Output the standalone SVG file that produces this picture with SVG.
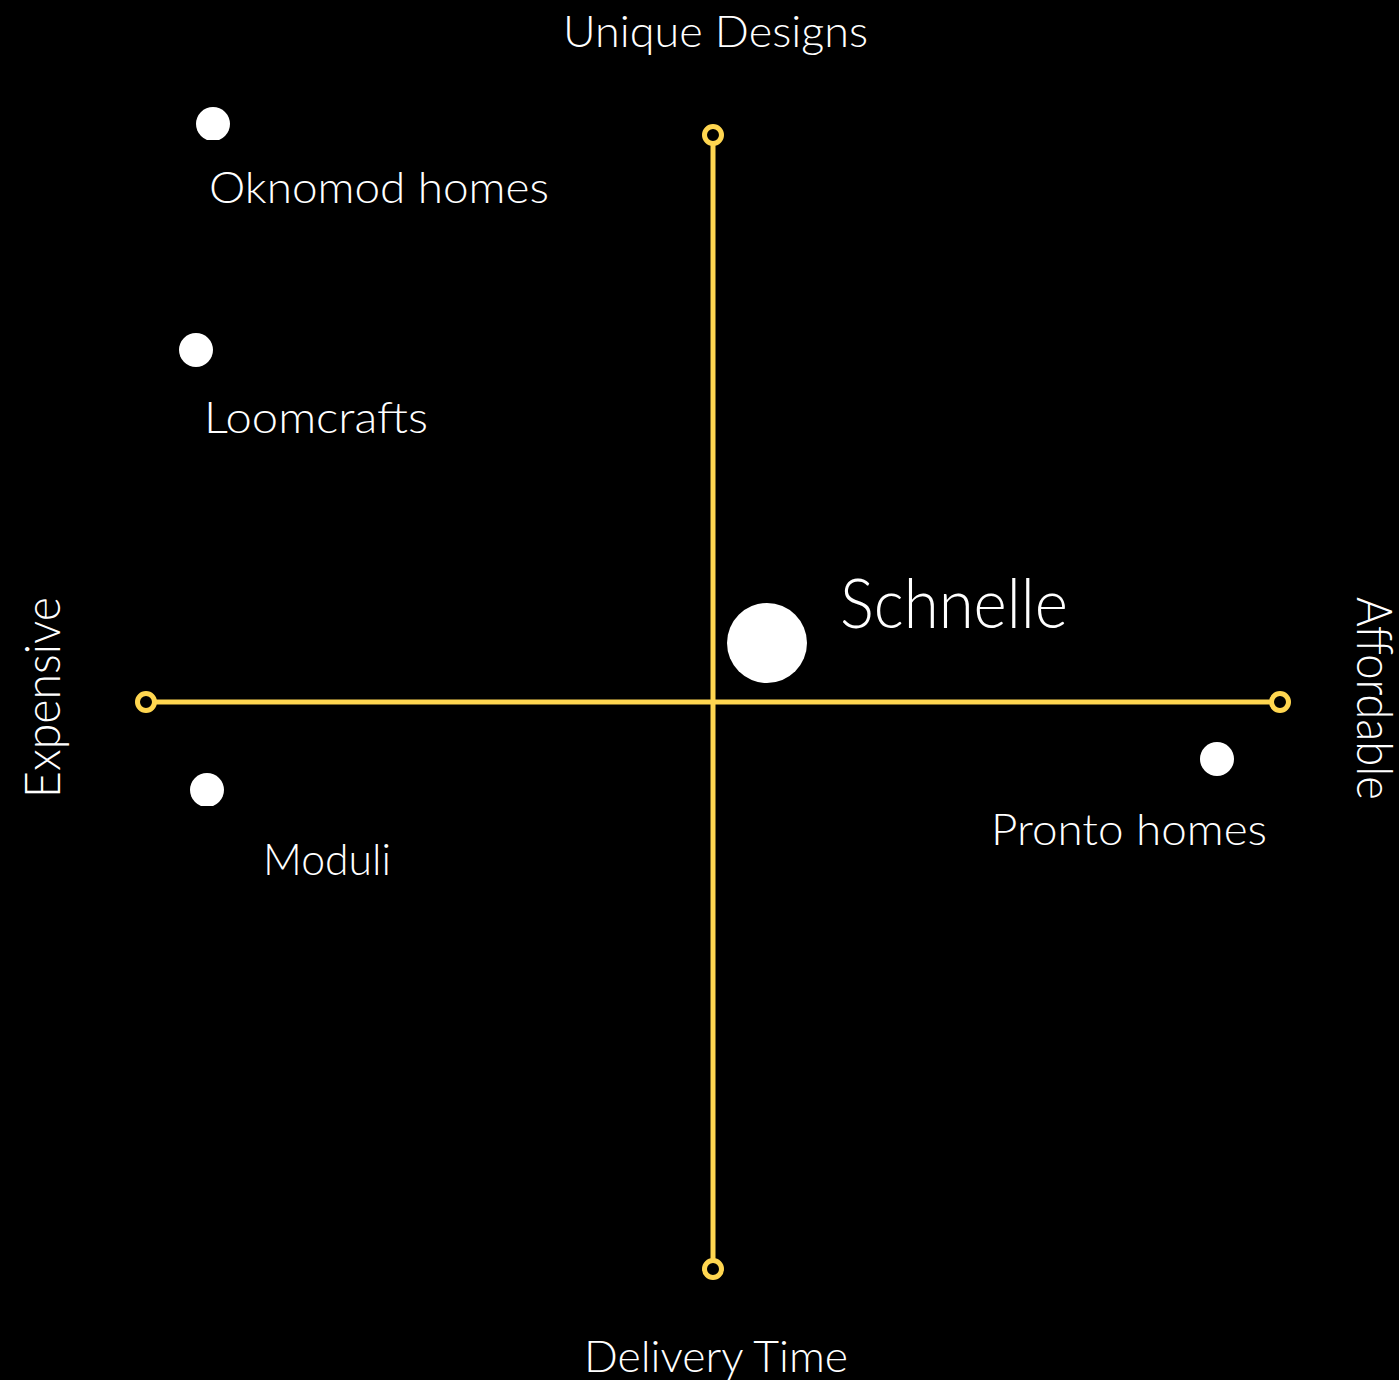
<svg xmlns="http://www.w3.org/2000/svg" width="1399" height="1380" viewBox="0 0 1399 1380">
<defs>
<style>
.axis{stroke:#FFD650;stroke-width:5;fill:none}
.end{stroke:#FFD650;stroke-width:5;fill:#000}
.dot{fill:#fff}
.lbl{font-family:Lato,"Liberation Sans",sans-serif;font-weight:300;fill:#fff;font-size:44px}
.big{font-size:49px}
.hero{font-size:68px;font-weight:300}
</style>
<clipPath id="clipOk"><rect x="190" y="100" width="50" height="40"/></clipPath>
<clipPath id="clipMo"><rect x="185" y="765" width="50" height="41"/></clipPath>
</defs>
<rect width="1399" height="1380" fill="#000"/>
<g id="connectors">
<line class="axis" x1="713" y1="135" x2="713" y2="1269"/>
<line class="axis" x1="146" y1="702" x2="1280" y2="702"/>
<circle class="end" cx="713" cy="135" r="8.5"/>
<circle class="end" cx="713" cy="1269" r="8.5"/>
<circle class="end" cx="146" cy="702" r="8.5"/>
<circle class="end" cx="1280" cy="702" r="8.5"/>
</g>
<g id="axis-labels">
<text class="lbl" x="563" y="47" textLength="305" lengthAdjust="spacingAndGlyphs">Unique Designs</text>
<text class="lbl" x="584" y="1372" textLength="264" lengthAdjust="spacingAndGlyphs">Delivery Time</text>
<text class="lbl big" transform="translate(60,798) rotate(-90)" textLength="201" lengthAdjust="spacingAndGlyphs">Expensive</text>
<text class="lbl big" transform="translate(1357,597) rotate(90)" textLength="203" lengthAdjust="spacingAndGlyphs">Affordable</text>
</g>
<g id="oknomod">
<circle class="dot" cx="213" cy="124" r="17" clip-path="url(#clipOk)"/>
<text class="lbl" x="209" y="203" textLength="340" lengthAdjust="spacingAndGlyphs">Oknomod homes</text>
</g>
<g id="loomcrafts">
<circle class="dot" cx="196" cy="350" r="17"/>
<text class="lbl" x="204" y="433" textLength="224" lengthAdjust="spacingAndGlyphs">Loomcrafts</text>
</g>
<g id="schnelle">
<circle class="dot" cx="767" cy="643" r="40"/>
<text class="lbl hero" x="840" y="628" textLength="228" lengthAdjust="spacingAndGlyphs">Schnelle</text>
</g>
<g id="moduli">
<circle class="dot" cx="207" cy="790" r="17" clip-path="url(#clipMo)"/>
<text class="lbl" x="263" y="875" textLength="128" lengthAdjust="spacingAndGlyphs">Moduli</text>
</g>
<g id="pronto">
<circle class="dot" cx="1217" cy="759" r="17"/>
<text class="lbl" x="991" y="845" textLength="276" lengthAdjust="spacingAndGlyphs">Pronto homes</text>
</g>
</svg>
